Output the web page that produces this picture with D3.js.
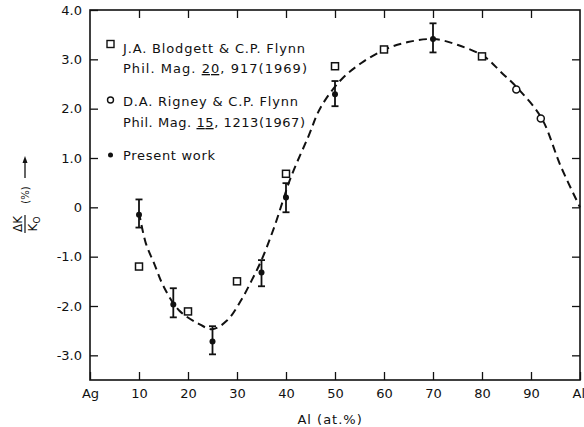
<!DOCTYPE html>
<html>
<head>
<meta charset="utf-8">
<script src="https://cdn.jsdelivr.net/npm/d3@7"></script>
<style>
	body { margin: 0; background: #fff; }
	svg { display: block; }
	text { font-family: 'DejaVu Sans', sans-serif; fill: #111; }
</style>
</head>
<body>
<div id="chart"></div>
<script>
/* global d3 */

// axis ticks
var xTicks       = [0, 10, 20, 30, 40, 50, 60, 70, 80, 90, 100];
var xTickLabels  = ['Ag', '10', '20', '30', '40', '50', '60', '70', '80', '90', 'Al'];
var yTicks       = [-3, -2, -1, 0, 1, 2, 3, 4];
var yTickLabels  = ['-3.0', '-2.0', '-1.0', '0', '1.0', '2.0', '3.0', '4.0'];

// present work (filled dots with error bars)
var presentX  = [10, 17, 25, 35, 40, 50, 70];
var presentY  = [-0.15, -1.97, -2.72, -1.32, 0.2, 2.29, 3.41];
var presentLo = [-0.41, -2.23, -2.98, -1.6, -0.1, 2.05, 3.14];
var presentHi = [0.16, -1.64, -2.41, -1.07, 0.49, 2.56, 3.73];

// Blodgett & Flynn (squares)
var blodgettX = [10, 20, 30, 40, 50, 60, 80];
var blodgettY = [-1.2, -2.11, -1.5, 0.68, 2.86, 3.2, 3.06];

// Rigney & Flynn (circles)
var rigneyX = [87, 92];
var rigneyY = [2.39, 1.8];

// dashed guide curve
var fitX = [10, 11.4, 13.1, 15.1, 18.2, 22, 25, 28, 30.8, 33, 35, 37.6, 41, 44.5, 47.1, 51.2, 55.3, 60.2, 64.9, 70.2, 75.1, 80.4, 83.9, 87.5, 92.2, 96, 100];
var fitY = [-0.1, -0.73, -1.14, -1.62, -2.09, -2.35, -2.47, -2.29, -1.89, -1.48, -1.07, -0.4, 0.61, 1.42, 2.03, 2.58, 2.92, 3.2, 3.35, 3.41, 3.29, 3.06, 2.74, 2.39, 1.8, 0.85, 0];

// legend
var legendSymbols = ['square', 'circle', 'dot'];
var legendLines = [
	[['J.A. Blodgett & C.P. Flynn', false]],
	[['Phil. Mag. ', false], ['20', true], [', 917(1969)', false]],
	[['D.A. Rigney & C.P. Flynn', false]],
	[['Phil. Mag. ', false], ['15', true], [', 1213(1967)', false]],
	[['Present work', false]]
];
var legendWidths = [182, 184, 175, 182, 92];

var xTitle = 'Al (at.%)';

(function () {
	'use strict';

	var margin = {top: 10, right: 4, bottom: 47, left: 90},
		width  = 584 - margin.left - margin.right,
		height = 427 - margin.top - margin.bottom;

	var x = d3.scaleLinear().domain([0, 100]).range([0, width]);
	var y = d3.scaleLinear().domain([-3.5, 4]).range([height, 0]);

	var svg = d3.select('#chart').append('svg')
		.attr('width', 584)
		.attr('height', 427);

	var g = svg.append('g')
		.attr('transform', 'translate(' + margin.left + ',' + margin.top + ')');

	// frame
	g.append('rect')
		.attr('width', width)
		.attr('height', height)
		.attr('fill', 'none')
		.attr('stroke', '#111')
		.attr('stroke-width', 1.6);

	function styleAxis (sel) {
		sel.select('.domain').remove();
		sel.selectAll('.tick line').attr('stroke', '#111').attr('stroke-width', 1.3);
		sel.selectAll('.tick text')
			.attr('font-family', "'DejaVu Sans', sans-serif")
			.attr('font-size', 13)
			.attr('fill', '#111');
	}

	// bottom axis (inward ticks)
	var xAxisG = g.append('g')
		.attr('transform', 'translate(0,' + height + ')')
		.call(d3.axisBottom(x).tickValues(xTicks).tickSize(-8).tickPadding(9)
			.tickFormat(function (d, i) { return xTickLabels[i]; }))
		.call(styleAxis);
	xAxisG.selectAll('.tick text').filter(function (d) { return d === 100; })
		.attr('text-anchor', 'start').attr('dx', -8);

	// top axis
	g.append('g')
		.call(d3.axisTop(x).tickValues(xTicks.slice(1, -1)).tickSize(-8).tickFormat(''))
		.call(styleAxis);

	// left axis
	g.append('g')
		.call(d3.axisLeft(y).tickValues(yTicks).tickSize(-8).tickPadding(8)
			.tickFormat(function (d, i) { return yTickLabels[i]; }))
		.call(styleAxis);

	// right axis
	g.append('g')
		.attr('transform', 'translate(' + width + ',0)')
		.call(d3.axisRight(y).tickValues(yTicks.slice(0, -1)).tickSize(-8).tickFormat(''))
		.call(styleAxis);

	// x title
	svg.append('text')
		.attr('x', margin.left + x(49))
		.attr('y', 424)
		.attr('text-anchor', 'middle')
		.attr('font-size', 13)
		.attr('letter-spacing', 1)
		.text(xTitle);

	// y title: dK / K0 (%) ->
	var yl = svg.append('g').attr('transform', 'translate(25,224) rotate(-90)');
	yl.append('text').attr('x', 0).attr('y', -3).attr('text-anchor', 'middle').attr('font-size', 12).text('\u0394K');
	yl.append('line').attr('x1', -9).attr('x2', 9).attr('y1', 0).attr('y2', 0).attr('stroke', '#111').attr('stroke-width', 1.2);
	var den = yl.append('text').attr('x', 0).attr('y', 12).attr('text-anchor', 'middle').attr('font-size', 12);
	den.append('tspan').text('K');
	den.append('tspan').attr('font-size', 9).attr('dy', 3).text('O');
	yl.append('text').attr('x', 29).attr('y', 4).attr('text-anchor', 'middle').attr('font-size', 10).text('(%)');
	yl.append('line').attr('x1', 46).attr('x2', 64).attr('y1', 0).attr('y2', 0).attr('stroke', '#111').attr('stroke-width', 1.3);
	yl.append('path').attr('d', 'M68,0L61,-2.5L61,2.5Z').attr('fill', '#111');

	// dashed curve
	var line = d3.line()
		.curve(d3.curveCatmullRom.alpha(0.5))
		.x(function (d) { return x(d[0]); })
		.y(function (d) { return y(d[1]); });
	g.append('path')
		.datum(fitX.map(function (v, i) { return [v, fitY[i]]; }))
		.attr('d', line)
		.attr('fill', 'none')
		.attr('stroke', '#111')
		.attr('stroke-width', 2)
		.attr('stroke-dasharray', '8,5');

	// error bars
	var present = presentX.map(function (v, i) {
		return {x: v, y: presentY[i], lo: presentLo[i], hi: presentHi[i]};
	});
	var eb = g.selectAll('.err').data(present).enter().append('g').attr('class', 'err')
		.attr('stroke', '#111').attr('stroke-width', 1.8);
	eb.append('line')
		.attr('x1', function (d) { return x(d.x); }).attr('x2', function (d) { return x(d.x); })
		.attr('y1', function (d) { return y(d.lo); }).attr('y2', function (d) { return y(d.hi); });
	eb.append('line')
		.attr('x1', function (d) { return x(d.x) - 3.5; }).attr('x2', function (d) { return x(d.x) + 3.5; })
		.attr('y1', function (d) { return y(d.lo); }).attr('y2', function (d) { return y(d.lo); });
	eb.append('line')
		.attr('x1', function (d) { return x(d.x) - 3.5; }).attr('x2', function (d) { return x(d.x) + 3.5; })
		.attr('y1', function (d) { return y(d.hi); }).attr('y2', function (d) { return y(d.hi); });
	g.selectAll('.dot').data(present).enter().append('circle').attr('class', 'dot')
		.attr('cx', function (d) { return x(d.x); })
		.attr('cy', function (d) { return y(d.y); })
		.attr('r', 3)
		.attr('fill', '#111');

	// squares
	g.selectAll('.sq').data(blodgettX).enter().append('rect').attr('class', 'sq')
		.attr('x', function (d) { return x(d) - 3.5; })
		.attr('y', function (d, i) { return y(blodgettY[i]) - 3.5; })
		.attr('width', 7).attr('height', 7)
		.attr('fill', '#fff').attr('stroke', '#111').attr('stroke-width', 1.5);

	// circles
	g.selectAll('.ci').data(rigneyX).enter().append('circle').attr('class', 'ci')
		.attr('cx', function (d) { return x(d); })
		.attr('cy', function (d, i) { return y(rigneyY[i]); })
		.attr('r', 3.5)
		.attr('fill', '#fff').attr('stroke', '#111').attr('stroke-width', 1.5);

	// legend
	var lg = svg.append('g');
	var symY = [44, 100, 155];
	legendSymbols.forEach(function (s, i) {
		if (s === 'square') {
			lg.append('rect').attr('x', 107).attr('y', symY[i] - 3.5).attr('width', 7).attr('height', 7)
				.attr('fill', '#fff').attr('stroke', '#111').attr('stroke-width', 1.4);
		} else if (s === 'circle') {
			lg.append('circle').attr('cx', 110.5).attr('cy', symY[i]).attr('r', 3)
				.attr('fill', '#fff').attr('stroke', '#111').attr('stroke-width', 1.4);
		} else {
			lg.append('circle').attr('cx', 110.5).attr('cy', symY[i]).attr('r', 2.5).attr('fill', '#111');
		}
	});
	var lineY = [53, 73, 106, 127, 160];
	legendLines.forEach(function (segs, i) {
		var t = lg.append('text')
			.attr('x', 123)
			.attr('y', lineY[i])
			.attr('font-size', 13)
			.attr('textLength', legendWidths[i])
			.attr('lengthAdjust', 'spacing');
		segs.forEach(function (s) {
			t.append('tspan').attr('text-decoration', s[1] ? 'underline' : null).text(s[0]);
		});
	});
})();
</script>
</body>
</html>
